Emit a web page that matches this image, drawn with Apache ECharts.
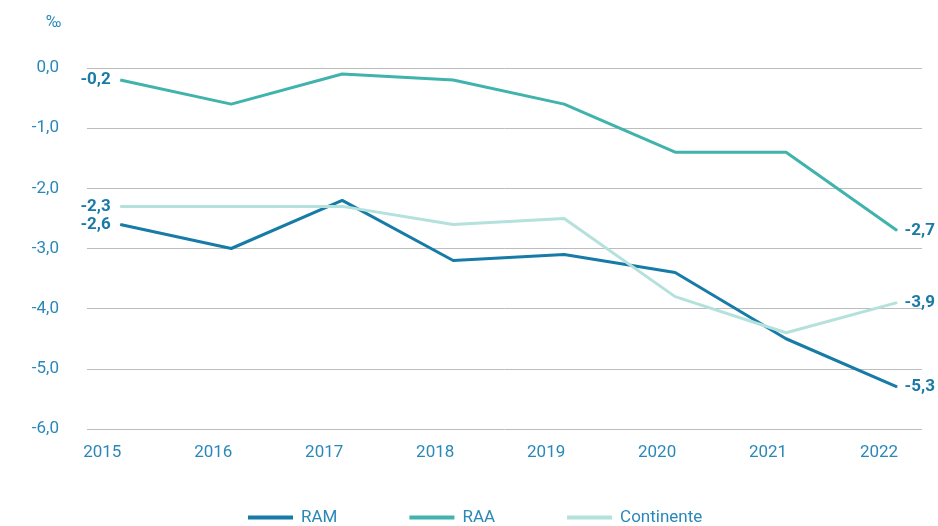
<!DOCTYPE html>
<html><head><meta charset="utf-8">
<script src="https://cdn.jsdelivr.net/npm/echarts@6/dist/echarts.min.js"></script>
<style>html,body{margin:0;padding:0;background:#fff}#c{width:938px;height:526px}</style>
</head><body><div id="c"></div>
<script>
const years = [2015, 2016, 2017, 2018, 2019, 2020, 2021, 2022];
const ram = [-2.6, -3.0, -2.2, -3.2, -3.1, -3.4, -4.5, -5.3];
const raa = [-0.2, -0.6, -0.1, -0.2, -0.6, -1.4, -1.4, -2.7];
const continente = [-2.3, -2.3, -2.3, -2.6, -2.5, -3.8, -4.4, -3.9];
const yTicks = [0, -1, -2, -3, -4, -5, -6];
const unit = '‰';

const txt = '#2a88b8';
const lblColor = '#1a7aa6';
const fmt = v => v.toFixed(1).replace('.', ',');

function mk(name, vals, color, leftLabel) {
  return {
    name, type: 'line', symbol: 'circle', symbolSize: 1, showSymbol: true,
    lineStyle: { color, width: 3 }, itemStyle: { color },
    emphasis: { disabled: true },
    data: vals.map((v, i) => {
      const d = { value: [years[i], v] };
      const first = i === 0, last = i === vals.length - 1;
      if ((first && leftLabel) || last) {
        d.label = {
          show: true, position: first ? 'left' : 'right', distance: first ? 9 : 7,
          formatter: p => fmt(p.value[1]),
          color: lblColor, fontWeight: 'bold', fontSize: 17, fontFamily: 'Roboto'
        };
      }
      return d;
    })
  };
}

const chart = echarts.init(document.getElementById('c'), null, { renderer: 'canvas' });
chart.setOption({
  animation: false,
  textStyle: { fontFamily: 'Roboto' },
  title: { text: unit, left: 41, top: 10, textStyle: { color: txt, fontSize: 16, fontWeight: 'normal', fontFamily: 'Roboto' } },
  grid: { left: 87, right: 16, top: 68, bottom: 97, containLabel: false },
  legend: {
    left: 248, top: 509, padding: 0, itemWidth: 45, itemHeight: 4, itemGap: 72, icon: 'rect',
    textStyle: { color: txt, fontSize: 17, fontFamily: 'Roboto', padding: [0, 0, 0, 3] },
    data: ['RAM', 'RAA', 'Continente']
  },
  xAxis: {
    type: 'value', min: 2014.7, max: 2022.225,
    axisLine: { show: false }, axisTick: { show: false }, splitLine: { show: false },
    axisLabel: { customValues: years, formatter: v => String(v), color: txt, fontSize: 17, margin: 15, padding: [0, 36, 0, 0] }
  },
  yAxis: {
    type: 'value', min: -6, max: 0, interval: 1,
    axisLine: { show: false }, axisTick: { show: false },
    splitLine: { lineStyle: { color: '#bdbdbd', width: 1 } },
    axisLabel: { formatter: v => fmt(v), color: txt, fontSize: 17, margin: 28 }
  },
  series: [
    mk('RAM', ram, '#177ba8', true),
    mk('RAA', raa, '#40b3ac', true),
    mk('Continente', continente, '#b4e1dc', true)
  ]
});
</script></body></html>
